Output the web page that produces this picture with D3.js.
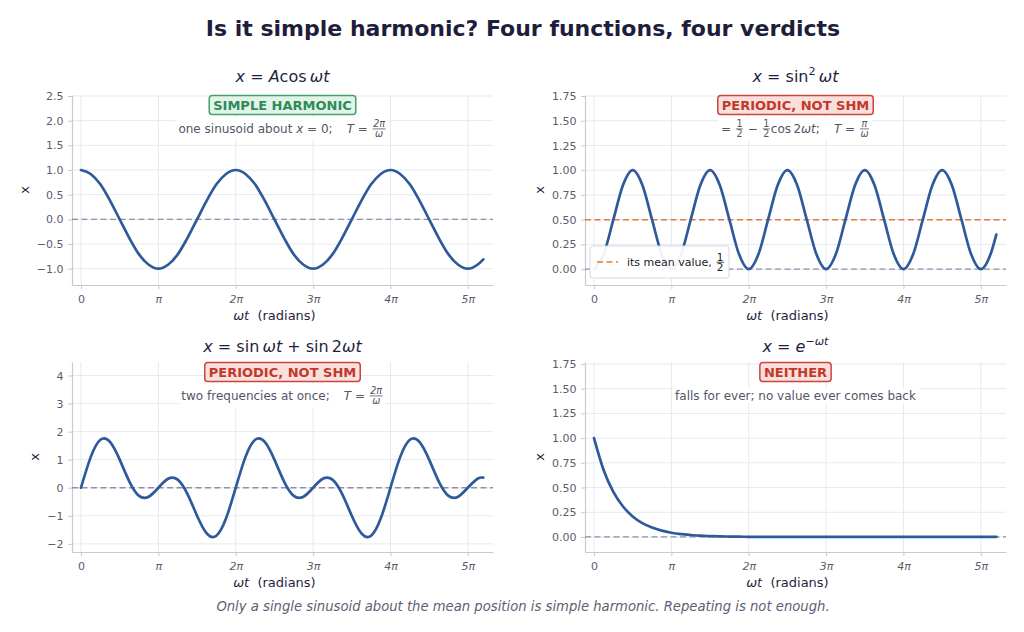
<!DOCTYPE html>
<html>
<head>
<meta charset="utf-8">
<script src="https://cdn.jsdelivr.net/npm/d3@7"></script>
<style>
  body { margin: 0; background: #fff; }
  svg { display: block; }
  text { font-family: "DejaVu Sans", sans-serif; }
</style>
</head>
<body>
<svg id="chart" width="1024" height="632"></svg>
<script>
// sample positions, in multiples of pi (pi/8 steps, last one at 5.2 pi)
var wtPi = [0, 0.125, 0.25, 0.375, 0.5, 0.625, 0.75, 0.875, 1, 1.125, 1.25, 1.375, 1.5, 1.625, 1.75, 1.875,
            2, 2.125, 2.25, 2.375, 2.5, 2.625, 2.75, 2.875, 3, 3.125, 3.25, 3.375, 3.5, 3.625, 3.75, 3.875,
            4, 4.125, 4.25, 4.375, 4.5, 4.625, 4.75, 4.875, 5, 5.125, 5.2];

// values at those positions
var cosVals = [1, 0.92, 0.71, 0.38, 0, -0.38, -0.71, -0.92, -1, -0.92, -0.71, -0.38, 0, 0.38, 0.71, 0.92,
               1, 0.92, 0.71, 0.38, 0, -0.38, -0.71, -0.92, -1, -0.92, -0.71, -0.38, 0, 0.38, 0.71, 0.92,
               1, 0.92, 0.71, 0.38, 0, -0.38, -0.71, -0.92, -1, -0.92, -0.81];
var sinSqVals = [0, 0.15, 0.5, 0.85, 1, 0.85, 0.5, 0.15, 0, 0.15, 0.5, 0.85, 1, 0.85, 0.5, 0.15,
                 0, 0.15, 0.5, 0.85, 1, 0.85, 0.5, 0.15, 0, 0.15, 0.5, 0.85, 1, 0.85, 0.5, 0.15,
                 0, 0.15, 0.5, 0.85, 1, 0.85, 0.5, 0.15, 0, 0.15, 0.35];
var twoSinVals = [0, 1.09, 1.71, 1.63, 1, 0.22, -0.29, -0.32, 0, 0.32, 0.29, -0.22, -1, -1.63, -1.71, -1.09,
                  0, 1.09, 1.71, 1.63, 1, 0.22, -0.29, -0.32, 0, 0.32, 0.29, -0.22, -1, -1.63, -1.71, -1.09,
                  0, 1.09, 1.71, 1.63, 1, 0.22, -0.29, -0.32, 0, 0.32, 0.36];
var expVals = [1, 0.675, 0.456, 0.308, 0.208, 0.140, 0.095, 0.064, 0.043, 0.029, 0.020, 0.013, 0.009, 0.006,
               0.004, 0.003, 0.002, 0.001, 0.001, 0.001, 0, 0, 0, 0, 0, 0, 0, 0, 0, 0, 0, 0, 0, 0, 0, 0,
               0, 0, 0, 0, 0, 0, 0];

var xTicksPi = [0, 1, 2, 3, 4, 5];
var xTickLabels = ["0", "π", "2π", "3π", "4π", "5π"];
var ticksCos = [-1, -0.5, 0, 0.5, 1, 1.5, 2, 2.5];
var ticksQuarter = [0, 0.25, 0.5, 0.75, 1, 1.25, 1.5, 1.75];
var ticksInt = [-2, -1, 0, 1, 2, 3, 4];
var meanValue = 0.5;

var verdicts = ["SIMPLE HARMONIC", "PERIODIC, NOT SHM", "PERIODIC, NOT SHM", "NEITHER"];

var svg = d3.select("#chart");
var PI = Math.PI;
var ink = "#1f1f3d", grey = "#555566", lineBlue = "#2f5a9a";
var gridCol = "#e6e9f0", spineCol = "#c6cad4";

var colors = {
  good: { text: "#2e8b57", fill: "#e2f3e7", stroke: "#45a06a" },
  bad:  { text: "#c0392b", fill: "#fbdfdc", stroke: "#c9463b" }
};

// lay out a row of math-ish pieces, returns total width
function mathRow(g, parts, size, color, fracScale) {
  var x = 0;
  parts.forEach(function(p) {
    if (p.gap) { x += p.gap; return; }
    if (p.frac) {
      var fs = size * (fracScale || 0.8);
      var num = g.append("text").attr("font-size", fs).attr("fill", color)
        .attr("font-style", p.i ? "italic" : null).attr("text-anchor", "middle").text(p.frac[0]);
      var den = g.append("text").attr("font-size", fs).attr("fill", color)
        .attr("font-style", p.i ? "italic" : null).attr("text-anchor", "middle").text(p.frac[1]);
      var w = Math.max(num.node().getComputedTextLength(), den.node().getComputedTextLength()) + 1;
      var cx = x + 1 + w / 2, bar = -size * 0.34;
      num.attr("x", cx).attr("y", bar - size * 0.12);
      den.attr("x", cx).attr("y", bar + fs * 0.88);
      g.append("line").attr("x1", x + 1).attr("x2", x + 1 + w).attr("y1", bar).attr("y2", bar)
        .attr("stroke", color).attr("stroke-width", 0.8);
      x += w + 2;
      return;
    }
    var sup = !!p.sup;
    var t = g.append("text").attr("x", x).attr("y", sup ? -size * 0.42 : 0)
      .attr("font-size", sup ? size * 0.7 : size).attr("fill", color)
      .attr("font-style", p.i ? "italic" : null)
      .text(sup ? p.sup : p.t);
    x += t.node().getComputedTextLength();
  });
  return x;
}

function centredRow(parent, parts, cx, baseline, size, color, bg) {
  var g = parent.append("g");
  var inner = g.append("g");
  var w = mathRow(inner, parts, size, color);
  inner.attr("transform", "translate(" + (cx - w / 2) + "," + baseline + ")");
  if (bg) {
    var b = inner.node().getBBox();
    g.insert("rect", ":first-child")
      .attr("x", cx - w / 2 + b.x - 3).attr("y", baseline + b.y - 1)
      .attr("width", b.width + 6).attr("height", b.height + 2)
      .attr("fill", "#fff").attr("opacity", 0.9);
  }
  return g;
}

var nb = "\u00a0";
var panels = [
  { left: 72, top: 95, title: [{t: "x", i: 1}, {t: nb + "=" + nb}, {t: "A", i: 1}, {t: "cos\u2009"}, {t: "ωt", i: 1}],
    verdict: verdicts[0], kind: "good",
    note: [{t: "one sinusoid about" + nb}, {t: "x", i: 1}, {t: nb + "=" + nb + "0;"}, {gap: 14}, {t: "T", i: 1}, {t: nb + "=" + nb}, {frac: ["2π", "ω"], i: 1}],
    vals: cosVals, y: [-1.33, 2.52], ticks: ticksCos, fmt: d3.format(".1f"), curve: d3.curveMonotoneX },
  { left: 585, top: 95, title: [{t: "x", i: 1}, {t: nb + "=" + nb + "sin"}, {sup: "2"}, {t: "\u2009"}, {t: "ωt", i: 1}],
    verdict: verdicts[1], kind: "bad",
    note: [{t: "=" + nb}, {frac: ["1", "2"]}, {t: nb + "−" + nb}, {frac: ["1", "2"]}, {t: "cos\u20092"}, {t: "ωt", i: 1}, {t: ";"}, {gap: 14}, {t: "T", i: 1}, {t: nb + "=" + nb}, {frac: ["π", "ω"], i: 1}],
    vals: sinSqVals, y: [-0.16, 1.76], ticks: ticksQuarter, fmt: d3.format(".2f"), curve: d3.curveMonotoneX, mean: true },
  { left: 72, top: 362, title: [{t: "x", i: 1}, {t: nb + "=" + nb + "sin\u2009"}, {t: "ωt", i: 1}, {t: nb + "+" + nb + "sin\u20092"}, {t: "ωt", i: 1}],
    verdict: verdicts[2], kind: "bad",
    note: [{t: "two frequencies at once;"}, {gap: 14}, {t: "T", i: 1}, {t: nb + "=" + nb}, {frac: ["2π", "ω"], i: 1}],
    vals: twoSinVals, y: [-2.29, 4.48], ticks: ticksInt, fmt: d3.format("d"), curve: d3.curveNatural },
  { left: 585, top: 362, title: [{t: "x", i: 1}, {t: nb + "=" + nb}, {t: "e", i: 1}, {sup: "−ωt", i: 1}],
    verdict: verdicts[3], kind: "bad",
    note: [{t: "falls for ever; no value ever comes back"}],
    vals: expVals, y: [-0.152, 1.77], ticks: ticksQuarter, fmt: d3.format(".2f"), curve: d3.curveMonotoneX }
];

var W = 421, H = 190;
var titleY = { 95: 82, 362: 352 };

panels.forEach(function(p) {
  var g = svg.append("g").attr("transform", "translate(" + p.left + "," + p.top + ")");
  var x = d3.scaleLinear().domain([-0.366, 16.73]).range([0, W]);
  var y = d3.scaleLinear().domain(p.y).range([H, 0]);
  var xt = xTicksPi.map(function(k) { return k * PI; });

  // grid
  g.append("g").selectAll("line.h").data(p.ticks).join("line")
    .attr("x1", 0).attr("x2", W).attr("y1", function(d) { return y(d); }).attr("y2", function(d) { return y(d); })
    .attr("stroke", gridCol).attr("stroke-width", 1);
  g.append("g").selectAll("line.v").data(xt).join("line")
    .attr("x1", function(d) { return x(d); }).attr("x2", function(d) { return x(d); }).attr("y1", 0).attr("y2", H)
    .attr("stroke", gridCol).attr("stroke-width", 1);

  // axes
  var xa = g.append("g").attr("transform", "translate(0," + H + ")")
    .call(d3.axisBottom(x).tickValues(xt).tickSize(4).tickPadding(4).tickSizeOuter(0)
      .tickFormat(function(d, i) { return xTickLabels[i]; }));
  var ya = g.append("g")
    .call(d3.axisLeft(y).tickValues(p.ticks).tickSize(4).tickPadding(4.5).tickSizeOuter(0)
      .tickFormat(function(d) { return p.fmt(d).replace("-", "−"); }));
  [xa, ya].forEach(function(a) {
    a.select(".domain").attr("stroke", spineCol).attr("stroke-width", 1.2);
    a.selectAll(".tick line").attr("stroke", spineCol);
    a.selectAll(".tick text").attr("fill", "#5c5c6c").attr("font-size", 11)
      .attr("font-family", "DejaVu Sans, sans-serif");
  });
  xa.selectAll(".tick text").attr("font-style", function(d, i) { return i > 0 ? "italic" : null; })
    .attr("dy", "0.9em");

  // zero line and mean line
  g.append("line").attr("x1", 0).attr("x2", W).attr("y1", y(0)).attr("y2", y(0))
    .attr("stroke", "#8d90a8").attr("stroke-width", 1.3).attr("stroke-dasharray", "6,3.5");
  if (p.mean) {
    g.append("line").attr("x1", 0).attr("x2", W).attr("y1", y(meanValue)).attr("y2", y(meanValue))
      .attr("stroke", "#e07b39").attr("stroke-width", 1.6).attr("stroke-dasharray", "6,3.5");
  }

  // curve
  var pts = wtPi.map(function(k, i) { return [k * PI, p.vals[i]]; });
  g.append("path").datum(pts)
    .attr("d", d3.line().x(function(d) { return x(d[0]); }).y(function(d) { return y(d[1]); }).curve(p.curve))
    .attr("fill", "none").attr("stroke", lineBlue).attr("stroke-width", 2.7).attr("stroke-linecap", "round");

  // legend
  if (p.mean) {
    var lg = g.append("g").attr("transform", "translate(5," + (H - 39) + ")");
    lg.append("rect").attr("width", 139).attr("height", 32).attr("rx", 3)
      .attr("fill", "#fff").attr("fill-opacity", 0.93).attr("stroke", "#d6d9e0");
    lg.append("line").attr("x1", 7).attr("x2", 28).attr("y1", 16).attr("y2", 16)
      .attr("stroke", "#e07b39").attr("stroke-width", 1.6).attr("stroke-dasharray", "6,3.5");
    var lt = lg.append("g").attr("transform", "translate(37,20)");
    mathRow(lt, [{t: "its mean value," + nb}, {frac: ["1", "2"]}], 11, "#222", 0.95);
  }

  // titles and notes
  var cx = W / 2;
  centredRow(g, p.title, cx, titleY[p.top] - p.top, 16, ink);
  var c = colors[p.kind];
  var badge = g.append("g");
  var bRect = badge.append("rect");
  var bt = badge.append("text").attr("x", cx).attr("y", 15).attr("text-anchor", "middle")
    .attr("font-size", 13).attr("font-weight", "bold").attr("fill", c.text).text(p.verdict);
  var bw = bt.node().getComputedTextLength();
  bRect.attr("x", cx - bw / 2 - 4).attr("y", 0.5).attr("width", bw + 8).attr("height", 19).attr("rx", 3)
    .attr("fill", c.fill).attr("stroke", c.stroke).attr("stroke-width", 1.5);
  centredRow(g, p.note, cx, 38, 12, grey, true);

  // axis labels
  var xl = g.append("g");
  var xw = mathRow(xl, [{t: "ωt", i: 1}, {t: nb + nb + "(radians)"}], 13, ink);
  xl.attr("transform", "translate(" + (x(2.5 * PI) - xw / 2) + "," + (H + 35) + ")");
  var yb = ya.node().getBBox();
  g.append("text").attr("transform", "translate(" + (yb.x - 8) + "," + (H / 2) + ") rotate(-90)")
    .attr("text-anchor", "middle").attr("font-size", 13).attr("fill", ink).text("x");
});

svg.append("text").attr("x", 523).attr("y", 36).attr("text-anchor", "middle")
  .attr("font-size", 22).attr("font-weight", "bold").attr("fill", "#1e1e3c")
  .text("Is it simple harmonic? Four functions, four verdicts");

svg.append("text").attr("x", 523).attr("y", 611).attr("text-anchor", "middle")
  .attr("font-size", 13.2).attr("font-style", "italic").attr("fill", "#5e5e74")
  .text("Only a single sinusoid about the mean position is simple harmonic. Repeating is not enough.");
</script>
</body>
</html>
